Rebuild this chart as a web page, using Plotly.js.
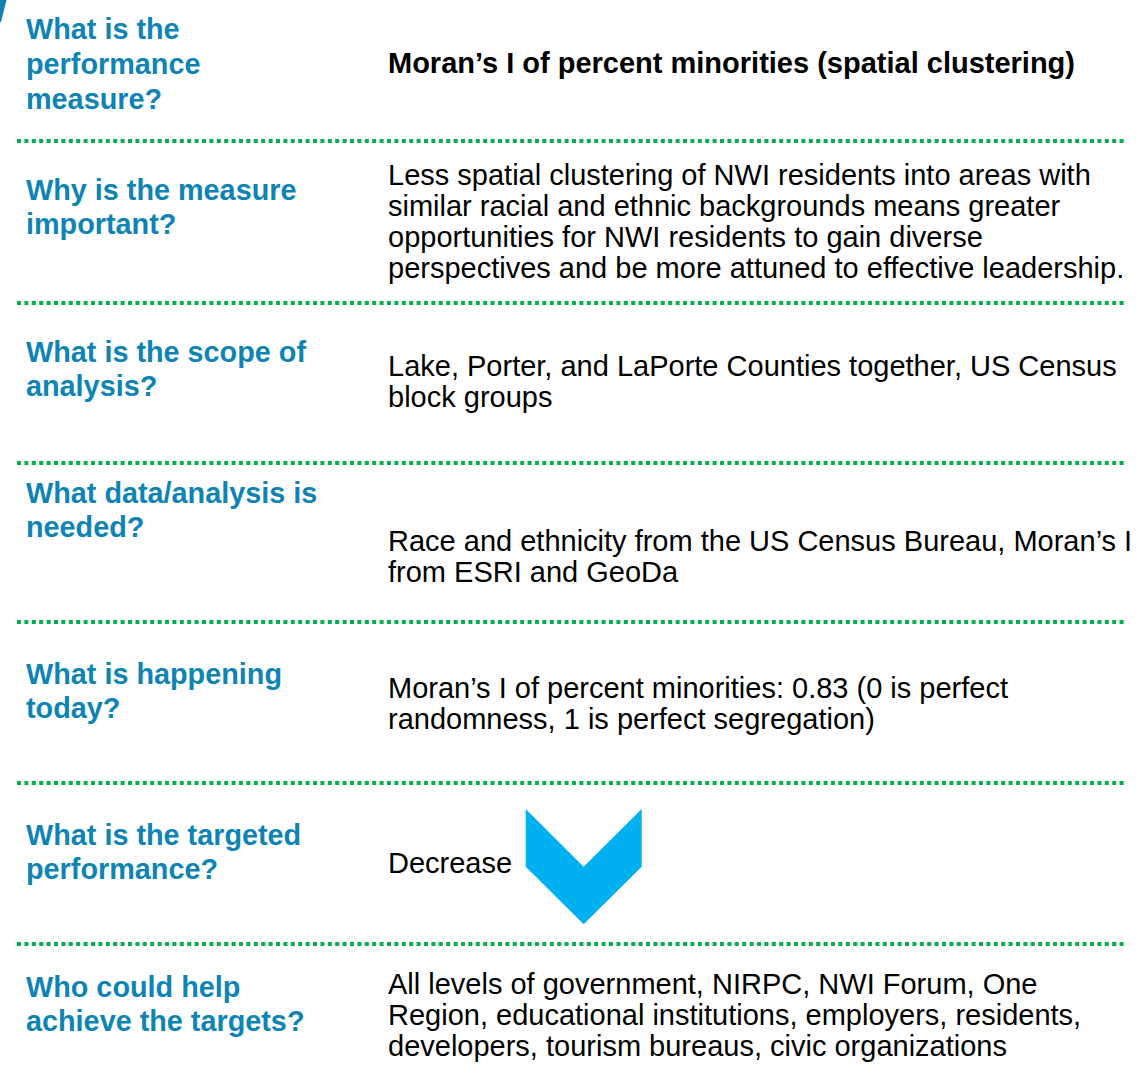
<!DOCTYPE html>
<html><head><meta charset="utf-8">
<script src="https://cdn.plot.ly/plotly-3.0.1.min.js"></script>
<style>html,body{margin:0;padding:0;background:#fff;overflow:hidden}#chart{width:1143px;height:1078px}</style>
</head><body><div id="chart"></div>
<script>
// ---- content ----
const questions = [
  ["What is the", "performance", "measure?"],
  ["Why is the measure", "important?"],
  ["What is the scope of", "analysis?"],
  ["What data/analysis is", "needed?"],
  ["What is happening", "today?"],
  ["What is the targeted", "performance?"],
  ["Who could help", "achieve the targets?"]
];
const answers = [
  ["Moran’s I of percent minorities (spatial clustering)"],
  ["Less spatial clustering of NWI residents into areas with",
   "similar racial and ethnic backgrounds means greater",
   "opportunities for NWI residents to gain diverse",
   "perspectives and be more attuned to effective leadership."],
  ["Lake, Porter, and LaPorte Counties together, US Census",
   "block groups"],
  ["Race and ethnicity from the US Census Bureau, Moran’s I",
   "from ESRI and GeoDa"],
  ["Moran’s I of percent minorities: 0.83 (0 is perfect",
   "randomness, 1 is perfect segregation)"],
  ["Decrease"],
  ["All levels of government, NIRPC, NWI Forum, One",
   "Region, educational institutions, employers, residents,",
   "developers, tourism bureaus, civic organizations"]
];
const targetDirection = ["down"];

// ---- layout (positions in page pixels) ----
const W = 1143, H = 1078;
const qX = 24, aX = 386;
const qLineY = [[29, 64, 99], [190, 224], [352, 386], [493, 527], [674, 708], [835, 869], [987, 1021]];
const aLineY = [[63], [175, 206, 237, 268], [366, 397], [541, 572], [688, 719], [863], [984, 1015, 1046]];
const sepY = [141, 303, 463, 622, 783, 944];
const sepX0 = 17, sepX1 = 1126;

const FONT = "Liberation Sans, Arial, sans-serif";
const qColor = "#0E84B5";
const green = "#00B050";
const arrowColor = "#00B0F0";
const qSize = 28.8, aSize = 29;

const annotations = [];
questions.forEach((lines, r) => {
  lines.forEach((t, i) => {
    annotations.push({
      x: qX, y: qLineY[r][i], xref: "x", yref: "y", text: "<b>" + t + "</b>",
      showarrow: false, xanchor: "left", yanchor: "middle",
      font: {family: FONT, size: qSize, color: qColor}
    });
  });
});
answers.forEach((lines, r) => {
  lines.forEach((t, i) => {
    annotations.push({
      x: aX, y: aLineY[r][i], xref: "x", yref: "y",
      text: r === 0 ? "<b>" + t + "</b>" : t,
      showarrow: false, xanchor: "left", yanchor: "middle",
      font: {family: FONT, size: aSize, color: "#000000"}
    });
  });
});

const shapes = sepY.map(y => ({
  type: "line", xref: "x", yref: "y", x0: sepX0, x1: sepX1, y0: y, y1: y,
  line: {color: green, width: 4, dash: "4px,3.4px"}
}));

// decorative corner stroke
shapes.push({
  type: "path", xref: "x", yref: "y",
  path: "M0,0 L6.5,0 L1,22 L0,22 Z",
  fillcolor: "#1480B0", line: {width: 0}
});

// chevron showing target direction (down)
if (targetDirection[0] === "down") {
  const cx0 = 525.7, cx1 = 641.7, cxm = 583.7, top = 809, mid = 866.7, bot = 924.3;
  shapes.push({
    type: "path", xref: "x", yref: "y",
    path: `M${cx0},${top} L${cxm},${mid} L${cx1},${top} L${cx1},${mid} L${cxm},${bot} L${cx0},${mid} Z`,
    fillcolor: arrowColor, line: {width: 0}
  });
}

const layout = {
  width: W, height: H,
  margin: {l: 0, r: 0, t: 0, b: 0, pad: 0},
  paper_bgcolor: "#ffffff", plot_bgcolor: "#ffffff",
  showlegend: false,
  xaxis: {range: [0, W], visible: false, fixedrange: true},
  yaxis: {range: [H, 0], visible: false, fixedrange: true},
  annotations: annotations,
  shapes: shapes
};

Plotly.newPlot("chart", [], layout, {staticPlot: true, displayModeBar: false});
</script>
</body></html>
